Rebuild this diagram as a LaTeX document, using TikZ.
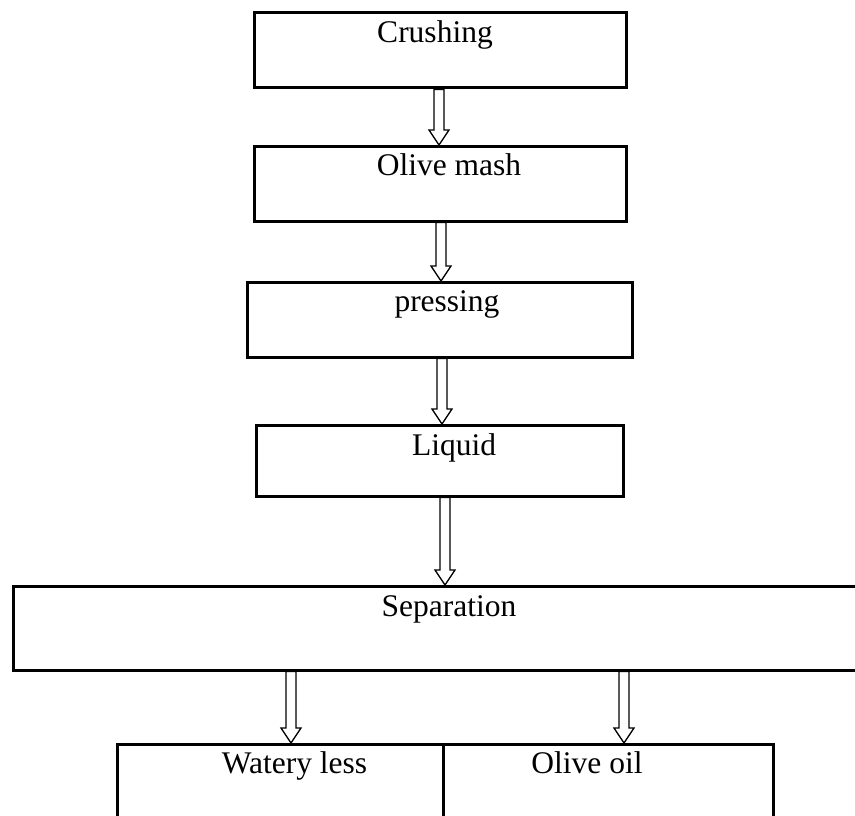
\documentclass[tikz,border=0pt]{standalone}
\usepackage{fontspec}
\setmainfont{Liberation Serif}
\usetikzlibrary{calc}
\newcommand{\blockarrow}[3]{%
  \draw[blk] let \p1=(#2.south), \p2=(#3.north) in
    (#1pt-5pt,\y1-1.5pt) -- (#1pt+5pt,\y1-1.5pt) -- (#1pt+5pt,\y2+16pt) --
    (#1pt+10pt,\y2+16pt) -- (#1pt,\y2+1pt) -- (#1pt-10pt,\y2+16pt) --
    (#1pt-5pt,\y2+16pt) -- cycle;}
\begin{document}
\begin{tikzpicture}[x=1pt,y=-1pt,
  box/.style={draw, line width=3pt, inner sep=0pt, outer sep=0pt, anchor=north west},
  lbl/.style={anchor=base, inner sep=0pt, font=\fontsize{31.5}{36}\selectfont},
  blk/.style={draw, line width=1.3pt, fill=white, line join=miter}]
\useasboundingbox (0,0) rectangle (855,816);
\clip (0,0) rectangle (855,816);
% boxes
\node[box, minimum width=372pt, minimum height=75pt] (b1) at (254,13) {};
\node[box, minimum width=372pt, minimum height=75pt] (b2) at (254,146) {};
\node[box, minimum width=385pt, minimum height=75pt] (b3) at (247,282) {};
\node[box, minimum width=367pt, minimum height=71pt] (b4) at (256,425) {};
\node[box, minimum width=870pt, minimum height=84pt] (b5) at (13,586) {};
\node[box, minimum width=326pt, minimum height=100pt] (b6) at (117,744) {};
\node[box, minimum width=330pt, minimum height=100pt] (b7) at (443,744) {};
% labels
\node[lbl] (t1) at (435,43) {Crushing};
\node[lbl] (t2) at (449,175.5) {Olive mash};
\node[lbl] (t3) at (447,311.5) {pressing};
\node[lbl] (t4) at (454,455) {Liquid};
\node[lbl] (t5) at (449,616) {Separation};
\node[lbl] (t6) at (294.5,773) {Watery less};
\node[lbl] (t7) at (587,773) {Olive oil};
% arrows
\blockarrow{439}{b1}{b2}
\blockarrow{441}{b2}{b3}
\blockarrow{442}{b3}{b4}
\blockarrow{445}{b4}{b5}
\blockarrow{291}{b5}{b6}
\blockarrow{624}{b5}{b7}
\end{tikzpicture}
\end{document}
